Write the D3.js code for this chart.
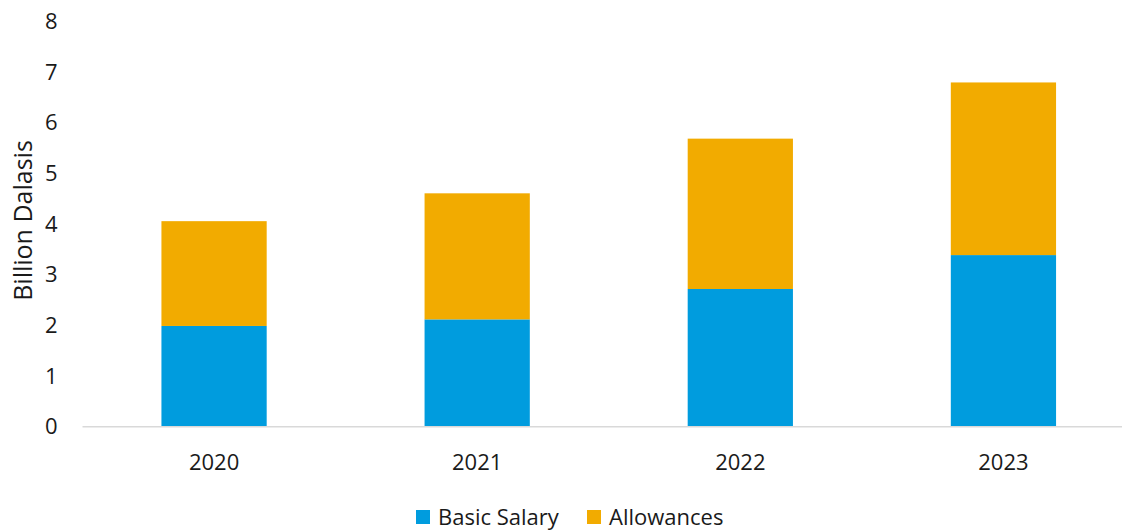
<!DOCTYPE html>
<html>
<head>
<meta charset="utf-8">
<script src="https://cdn.jsdelivr.net/npm/d3@7"></script>
<style>
  html, body { margin: 0; padding: 0; background: #fff; }
  svg { display: block; font-family: "Open Sans", "Noto Sans", sans-serif; }
</style>
</head>
<body>
<svg id="chart" width="1122" height="531"></svg>
<script>
// Personnel emoluments by component (billion Dalasis)
const years = ["2020", "2021", "2022", "2023"];
const basicSalary = [1.99, 2.12, 2.72, 3.39];
const allowances = [2.07, 2.49, 2.97, 3.41];
const seriesNames = ["Basic Salary", "Allowances"];
const seriesColors = ["#009CDE", "#F2AB00"];
const yTicks = [0, 1, 2, 3, 4, 5, 6, 7, 8];

const svg = d3.select("#chart");
const margin = { left: 82.5, right: -13, top: 21.7, bottom: 104.3 };
const W = 1122, H = 531;
const labelFont = 22;
const textColor = "#1a1a1a";

const x = d3.scaleBand()
  .domain(years)
  .range([margin.left, W - margin.right])
  .paddingInner(0.6)
  .paddingOuter(0.3);

const y = d3.scaleLinear()
  .domain([0, 8])
  .range([H - margin.bottom, margin.top]);

const rows = years.map((yr, i) => ({ year: yr, "Basic Salary": basicSalary[i], "Allowances": allowances[i] }));
const stacked = d3.stack().keys(seriesNames)(rows);

// stacked bars
svg.append("g")
  .selectAll("g")
  .data(stacked)
  .join("g")
  .attr("fill", (d, i) => seriesColors[i])
  .selectAll("rect")
  .data(d => d)
  .join("rect")
  .attr("x", d => x(d.data.year))
  .attr("width", x.bandwidth())
  .attr("y", d => y(d[1]))
  .attr("height", d => y(d[0]) - y(d[1]));

// baseline
svg.append("line")
  .attr("x1", x.range()[0]).attr("x2", x.range()[1])
  .attr("y1", y(0)).attr("y2", y(0))
  .attr("stroke", "#d9d9d9").attr("stroke-width", 1.5);

// y axis labels
const yAxis = svg.append("g")
  .attr("transform", `translate(${margin.left - 25},0)`)
  .call(d3.axisLeft(y).tickValues(yTicks).tickFormat(d3.format("d")).tickSize(0).tickPadding(0));
yAxis.select(".domain").remove();
yAxis.selectAll("text")
  .attr("font-size", labelFont)
  .attr("font-family", "'Open Sans', 'Noto Sans', sans-serif")
  .attr("fill", textColor);

// x axis labels
const xAxis = svg.append("g")
  .attr("transform", `translate(0,${y(0)})`)
  .call(d3.axisBottom(x).tickSize(0).tickPadding(28));
xAxis.select(".domain").remove();
xAxis.selectAll("text")
  .attr("font-size", labelFont)
  .attr("font-family", "'Open Sans', 'Noto Sans', sans-serif")
  .attr("fill", textColor);

// y axis title
svg.append("text")
  .attr("transform", `translate(32,220.5) rotate(-90)`)
  .attr("text-anchor", "middle")
  .attr("font-size", 25)
  .attr("fill", textColor)
  .text("Billion Dalasis");

// legend
const legend = svg.append("g").attr("transform", "translate(416,510)");
const legendOffsets = [0, 171];
seriesNames.forEach((name, i) => {
  const g = legend.append("g").attr("transform", `translate(${legendOffsets[i]},0)`);
  g.append("rect").attr("width", 14).attr("height", 14).attr("fill", seriesColors[i]);
  g.append("text")
    .attr("x", 22).attr("y", 15)
    .attr("font-size", labelFont)
    .attr("fill", textColor)
    .text(name);
});
</script>
</body>
</html>
